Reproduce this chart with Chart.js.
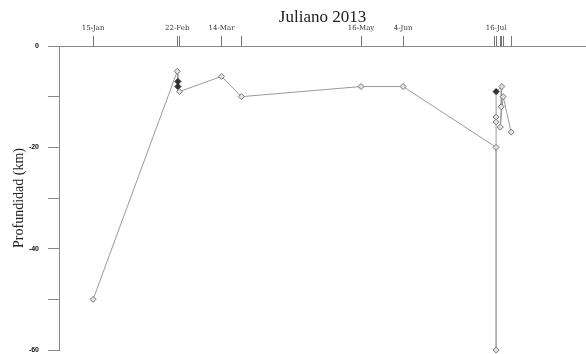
<!DOCTYPE html>
<html><head><meta charset="utf-8">
<script src="https://cdn.jsdelivr.net/npm/chart.js@4"></script>
<style>html,body{margin:0;padding:0;background:#fff}#wrap{width:586px;height:354px}</style>
</head><body><div id="wrap"><canvas id="c"></canvas></div>
<script>
// day of year 2013 (1 = 1-Jan)
const days   = [15, 53, 53.3, 53.3, 54, 73, 82, 136, 155, 197, 197, 197, 197, 197, 199.6, 199.3, 198.9, 200.2, 203.8];
const depths = [-50, -5, -7, -8, -9, -6, -10, -8, -8, -20, -60, -15, -14, -9, -8, -12, -16, -10, -17];
const counts = [1, 1, 3, 3, 1, 1, 1, 1, 1, 1, 1, 1, 1, 3, 1, 1, 1, 1, 1];
const tickDays   = [15, 53, 54.2, 73, 82, 136, 155, 196.4, 197, 198.9, 199.6, 200.2, 203.8];
const tickLabels = ['15-Jan', '22-Feb', '', '14-Mar', '', '16-May', '4-Jun', '', '16-Jul', '', '', '', ''];
const yTicks  = [0, -10, -20, -30, -40, -50, -60];
const yLabels = ['0', '', '-20', '', '-40', '', '-60'];

new Chart(document.getElementById('c'), {
  type: 'line',
  data: {
    datasets: [{
      data: days.map((d, i) => ({x: d, y: depths[i]})),
      borderColor: '#9a9a9a',
      borderWidth: 1,
      tension: 0,
      clip: false,
      pointStyle: 'rectRot',
      pointRadius: 3,
      pointBorderWidth: 1,
      pointBackgroundColor: ctx => counts[ctx.dataIndex] > 1 ? '#333' : '#e2e2e2',
      pointBorderColor: ctx => counts[ctx.dataIndex] > 1 ? '#222' : '#777'
    }]
  },
  options: {
    responsive: true,
    maintainAspectRatio: false,
    animation: false,
    layout: {autoPadding: false, padding: {left: 0, right: 0, top: 0, bottom: 4}},
    plugins: {legend: {display: false}, tooltip: {enabled: false}},
    scales: {
      x: {
        type: 'linear', position: 'top', min: -0.4, max: 237.6,
        afterBuildTicks: s => { s.ticks = tickDays.map(v => ({value: v})); },
        afterFit: s => { s.height = 46; s.paddingLeft = 0; s.paddingRight = 0; },
        ticks: {
          autoSkip: false, maxRotation: 0, minRotation: 0, padding: 4,
          callback: (v, i) => tickLabels[i],
          font: {family: 'DejaVu Serif', size: 7}, color: '#333'
        },
        grid: {drawOnChartArea: false, tickLength: 10, color: '#777'},
        border: {color: '#888'},
        title: {display: true, text: 'Juliano 2013', color: '#222',
          font: {family: 'Liberation Serif', size: 17}, padding: {top: 7, bottom: 0}}
      },
      y: {
        type: 'linear', position: 'left', min: -60, max: 0,
        afterBuildTicks: s => { s.ticks = yTicks.map(v => ({value: v})); },
        afterFit: s => { s.width = 59; s.paddingTop = 0; s.paddingBottom = 0; },
        ticks: {
          autoSkip: false, padding: 9,
          callback: (v, i) => yLabels[i],
          font: {family: 'Liberation Sans', size: 7, weight: 'bold'}, color: '#111'
        },
        grid: {drawOnChartArea: false, tickLength: 11, color: '#888'},
        border: {color: '#888'},
        title: {display: true, text: 'Profundidad (km)', color: '#222',
          font: {family: 'Liberation Serif', size: 14}, padding: {top: 11, bottom: 0}}
      }
    }
  }
});
</script>
</body></html>
